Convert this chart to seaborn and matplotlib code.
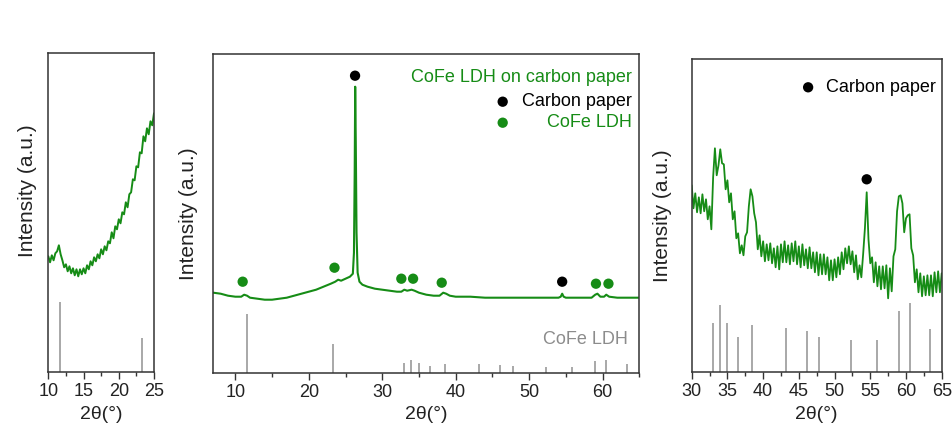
import numpy as np
import pandas as pd
import matplotlib
matplotlib.use("Agg")
import matplotlib.pyplot as plt
import seaborn as sns
from matplotlib.ticker import MultipleLocator

# --- data (intensity in arbitrary units) ---

# reference stick pattern of CoFe LDH (relative intensity, 100 = strongest)
ref_pos = [11.6, 23.3, 33.0, 33.9, 35.0, 36.5, 38.5, 43.2, 46.1, 47.8, 52.3, 55.9, 59.0, 60.5, 63.3]
ref_int = [100, 49, 15.8, 21.6, 15.8, 11.3, 15.2, 14.2, 13.2, 11.3, 10.3, 10.3, 19.7, 22.3, 13.9]

# full-range scan, CoFe LDH on carbon paper
full_x = [7.0, 8.0, 9.0, 10.0, 10.8, 11.2, 11.6, 12.0, 13.0, 14.0, 15.0, 16.0, 17.0, 18.0,
          19.0, 20.0, 21.0, 22.0, 23.0, 23.6, 24.0, 24.4, 25.0, 25.6, 26.0, 26.15, 26.25,
          26.32, 26.4, 26.5, 26.65, 26.9, 27.3, 28.0, 29.0, 30.0, 31.0, 32.0, 32.6, 33.0,
          33.4, 34.0, 34.4, 35.0, 36.0, 37.0, 37.8, 38.3, 38.7, 39.2, 40.0, 42.0, 44.0,
          46.0, 48.0, 50.0, 52.0, 53.0, 54.0, 54.3, 54.5, 54.7, 55.0, 57.0, 58.5, 59.0,
          59.3, 59.7, 60.2, 60.5, 60.9, 62.0, 63.0, 64.0, 65.0]
full_y = [80, 79, 77, 76, 76, 78, 77, 75, 74, 73, 73, 74, 75, 77,
          79, 81, 83, 86, 89, 91, 93, 92, 94, 96, 99, 120, 200,
          286, 230, 140, 100, 91, 88, 86, 84, 83, 82, 81, 81, 83,
          82, 83, 82, 80, 78, 77, 77, 80, 79, 77, 76, 76, 75,
          75, 75, 75, 75, 75, 75, 76, 79, 76, 75, 75, 75, 78,
          79, 76, 76, 78, 76, 75, 75, 75, 75]

# low-angle zoom (10-25 deg)
low_x = [10.0 + 0.25 * i for i in range(61)]
low_y = [116, 110, 117, 112, 119, 121, 127, 118, 112, 105, 108, 101, 106, 99, 104, 97,
         103, 96, 103, 98, 104, 99, 107, 103, 111, 107, 115, 111, 118, 114, 123, 118,
         126, 122, 131, 129, 140, 134, 146, 143, 153, 149, 160, 158, 170, 165, 178, 180,
         193, 192, 206, 205, 220, 219, 236, 231, 244, 238, 251, 247, 259]

# high-angle zoom (30-65 deg)
high_x = [30.0 + 0.25 * i for i in range(141)]
high_y = [187, 164, 179, 160, 175, 159, 178, 161, 173, 153, 166, 143, 195, 224, 197, 207,
          223, 209, 208, 183, 192, 170, 179, 153, 161, 134, 139, 119, 127, 117, 136, 140,
          166, 183, 176, 159, 150, 123, 137, 116, 131, 111, 128, 112, 129, 109, 124, 105,
          126, 103, 128, 110, 131, 110, 127, 108, 129, 111, 131, 108, 126, 105, 128, 107,
          123, 104, 125, 104, 120, 100, 120, 97, 118, 98, 118, 98, 115, 92, 112, 92,
          113, 95, 115, 98, 120, 103, 124, 109, 126, 108, 121, 100, 117, 93, 107, 95,
          118, 144, 180, 133, 109, 115, 90, 110, 86, 106, 83, 106, 84, 107, 74, 104,
          81, 116, 123, 161, 176, 177, 169, 140, 154, 157, 158, 124, 117, 90, 103, 80,
          99, 76, 96, 77, 97, 77, 97, 76, 100, 80, 101, 80, 99]

# peak markers on the full scan
cp_mark_x = [26.3, 54.5]
cp_mark_y = [297, 91]
ldh_mark_x = [11.0, 23.5, 32.6, 34.2, 38.1, 59.1, 60.8]
ldh_mark_y = [91, 105, 94, 94, 90, 89, 89]

# --- style ---
sns.set_theme(style="ticks")
plt.rcParams['font.family'] = ['Liberation Sans', 'DejaVu Sans']

green = "#168c16"
stick_col = "#9a9a9a"
spine_col = "#333333"

fig = plt.figure(figsize=(9.52, 4.37), dpi=100)
W, H = 952, 437


def add_axes(left, right, top, bottom):
    return fig.add_axes([left / W, (H - bottom) / H, (right - left) / W, (bottom - top) / H])


ax1 = add_axes(48.3, 154, 53.3, 372.3)
ax2 = add_axes(213.3, 639.3, 54, 372.7)
ax3 = add_axes(691.7, 941.7, 59, 372.3)


def style_axis(ax, xlim, major, minor, ymax):
    ax.set_xlim(*xlim)
    ax.set_ylim(0, ymax)
    ax.set_yticks([])
    ax.xaxis.set_major_locator(MultipleLocator(major))
    ax.xaxis.set_minor_locator(MultipleLocator(minor))
    ax.tick_params(axis='x', which='major', direction='out', length=5, width=1,
                   color=spine_col, labelsize=13, pad=3, labelcolor='#222222')
    ax.tick_params(axis='x', which='minor', direction='out', length=3, width=1, color=spine_col)
    for s in ax.spines.values():
        s.set_visible(True)
        s.set_color(spine_col)
        s.set_linewidth(1.1)
    ax.set_xlabel("2θ(°)", fontsize=14, color='#222222', labelpad=4)
    ax.set_ylabel("Intensity (a.u.)", fontsize=15, color='#222222')


def add_sticks(ax, scale):
    heights = [v * scale for v in ref_int]
    ax.vlines(ref_pos, 0, heights, color=stick_col, linewidth=1.2, zorder=1)


# panel 1: low angle
df_low = pd.DataFrame({"two_theta": low_x, "intensity": low_y})
sns.lineplot(data=df_low, x="two_theta", y="intensity", ax=ax1, color=green, linewidth=1.4)
add_sticks(ax1, 0.70)
style_axis(ax1, (10, 25), 5, 2.5, 319)
ax1.yaxis.set_label_coords(-0.107, 0.57)

# panel 2: full scan
df_full = pd.DataFrame({"two_theta": full_x, "intensity": full_y})
sns.lineplot(data=df_full, x="two_theta", y="intensity", ax=ax2, color=green, linewidth=1.5)
add_sticks(ax2, 0.59)
sns.scatterplot(x=cp_mark_x, y=cp_mark_y, ax=ax2, color='black', s=55, edgecolor='none', zorder=3)
sns.scatterplot(x=ldh_mark_x, y=ldh_mark_y, ax=ax2, color=green, s=55, edgecolor='none', zorder=3)
style_axis(ax2, (7, 65), 10, 5, 318.7)
ax2.yaxis.set_label_coords(-0.036, 0.5)
ax2.text(64.05, 295, "CoFe LDH on carbon paper", color=green, fontsize=13, ha='right', va='center')
ax2.text(64.05, 271, "Carbon paper", color='black', fontsize=13, ha='right', va='center')
ax2.text(64.05, 250, "CoFe LDH", color=green, fontsize=13, ha='right', va='center')
sns.scatterplot(x=[46.4], y=[271], ax=ax2, color='black', s=55, edgecolor='none')
sns.scatterplot(x=[46.4], y=[250], ax=ax2, color=green, s=55, edgecolor='none')
ax2.text(63.4, 33, "CoFe LDH", color='#8c8c8c', fontsize=13, ha='right', va='center')

# panel 3: high angle
df_high = pd.DataFrame({"two_theta": high_x, "intensity": high_y})
sns.lineplot(data=df_high, x="two_theta", y="intensity", ax=ax3, color=green, linewidth=1.3)
add_sticks(ax3, 3.1)
sns.scatterplot(x=[54.5], y=[193], ax=ax3, color='black', s=55, edgecolor='none', zorder=3)
sns.scatterplot(x=[46.3], y=[285], ax=ax3, color='black', s=55, edgecolor='none')
ax3.text(48.8, 285, "Carbon paper", color='black', fontsize=13, ha='left', va='center')
style_axis(ax3, (30, 65), 5, 2.5, 313.3)
ax3.yaxis.set_label_coords(-0.079, 0.5)

fig.savefig("out.png", dpi=100)
